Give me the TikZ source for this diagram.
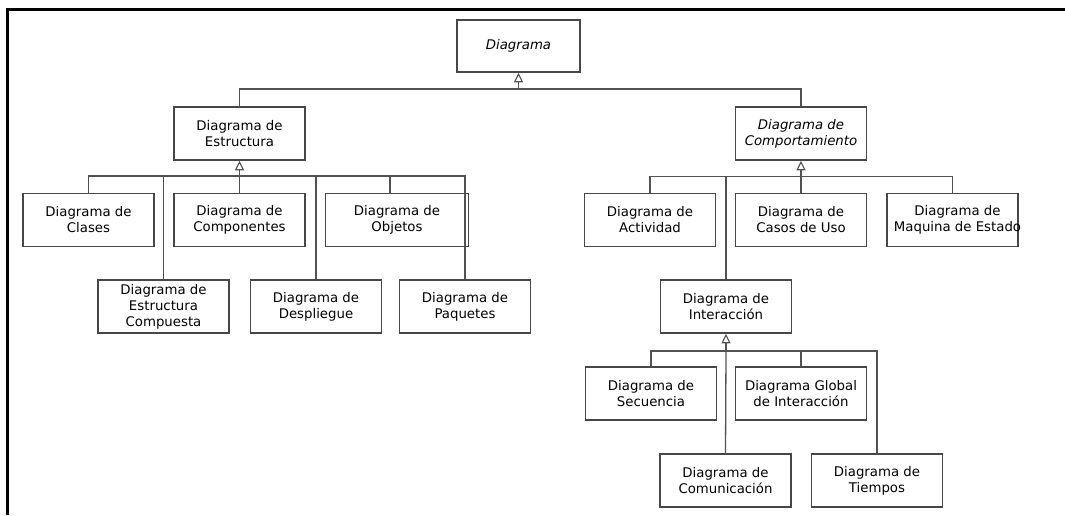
\documentclass[tikz,border=0pt]{standalone}
\usepackage{fontspec}
\setmainfont{DejaVu Sans}
\usetikzlibrary{arrows.meta,calc}
\begin{document}
\begin{tikzpicture}[x=1pt,y=-1pt,
  box/.style={draw=black!72, line width=1.6pt, minimum width=131pt, minimum height=53pt,
    inner sep=0pt, align=center, font=\fontsize{13.3}{16}\selectfont},
  lbl/.style={inner sep=0pt, align=center, font=\fontsize{13.3}{16}\selectfont},
  conn/.style={draw=black!68, line width=1.3pt},
  gen/.style={conn, -{Triangle[open,length=9.5pt,width=9pt,line width=1.1pt]}},
  frame/.style={draw=black, line width=2.2pt}]
\useasboundingbox (0,0) rectangle (1065,515);
\draw[frame] (7.5,515) -- (7.5,9.5) -- (1065,9.5);

% level 0
\node[box, minimum width=123pt, minimum height=52pt] (diag) at (518.5,46) {\itshape Diagrama};
% level 1
\node[box] (estr) at (239.5,133.5) {Diagrama de\\Estructura};
\node[box] (comp) at (801,133.5) {\itshape Diagrama de\\\itshape Comportamiento};
% level 2 structure
\node[box] (clases) at (88.5,220) {Diagrama de\\Clases};
\node[box] (compon) at (239.5,220) {Diagrama de\\Componentes};
\node[box, minimum width=143pt] (obj) at (397,220) {Diagrama de\\Objetos};
\node[box] (compu) at (163.5,306.5) {Diagrama de\\Estructura\\Compuesta};
\node[box] (despl) at (316,306.5) {Diagrama de\\Despliegue};
\node[box] (paq) at (465,306.5) {Diagrama de\\Paquetes};
% level 2 behaviour
\node[box] (activ) at (650,220) {Diagrama de\\Actividad};
\node[box] (casos) at (801,220) {Diagrama de\\Casos de Uso};
\node[box, label={[lbl, xshift=5pt]center:{Diagrama de\\Maquina de Estado}}] (maq) at (952.5,220) {};
\node[box] (inter) at (726,306.5) {Diagrama de\\Interacción};
% level 3 interaction
\node[box] (secu) at (651,393.5) {Diagrama de\\Secuencia};
\node[box] (glob) at (801,393.5) {Diagrama Global\\de Interacción};
\node[box] (comu) at (725.5,480.5) {Diagrama de\\Comunicación};
\node[box] (tiem) at (877,480.5) {Diagrama de\\Tiempos};

% junctions
\coordinate (j0) at (518.5,89);
\coordinate (j1) at (239.5,176);
\coordinate (j2) at (801,176.5);
\coordinate (j3) at (726,351);
\coordinate (objc) at (390,193.5);

% level 0 -> 1
\draw[gen] (j0) -- (diag.south);
\draw[conn] (estr.north) |- (j0) -| (comp.north);
% structure
\draw[gen] (j1) -- (estr.south);
\draw[conn] (clases.north) |- (j1) -| (paq.north);
\draw[conn] (compon.north) -- (j1);
\draw[conn] (compu.north) -- (compu.north |- j1);
\draw[conn] (despl.north) -- (despl.north |- j1);
\draw[conn] (objc) -- (objc |- j1);
% behaviour
\draw[gen] (j2) -- (comp.south);
\draw[conn] (activ.north) |- (j2) -| (maq.north);
\draw[conn] (casos.north) -- (j2);
\draw[conn] (inter.north) -- (inter.north |- j2);
% interaction
\draw[gen] (j3) -- (inter.south);
\draw[conn] (secu.north) |- (j3) -| (tiem.north);
\draw[conn] (glob.north) -- (glob.north |- j3);
\draw[conn] (comu.north) -- (j3);
\end{tikzpicture}
\end{document}
